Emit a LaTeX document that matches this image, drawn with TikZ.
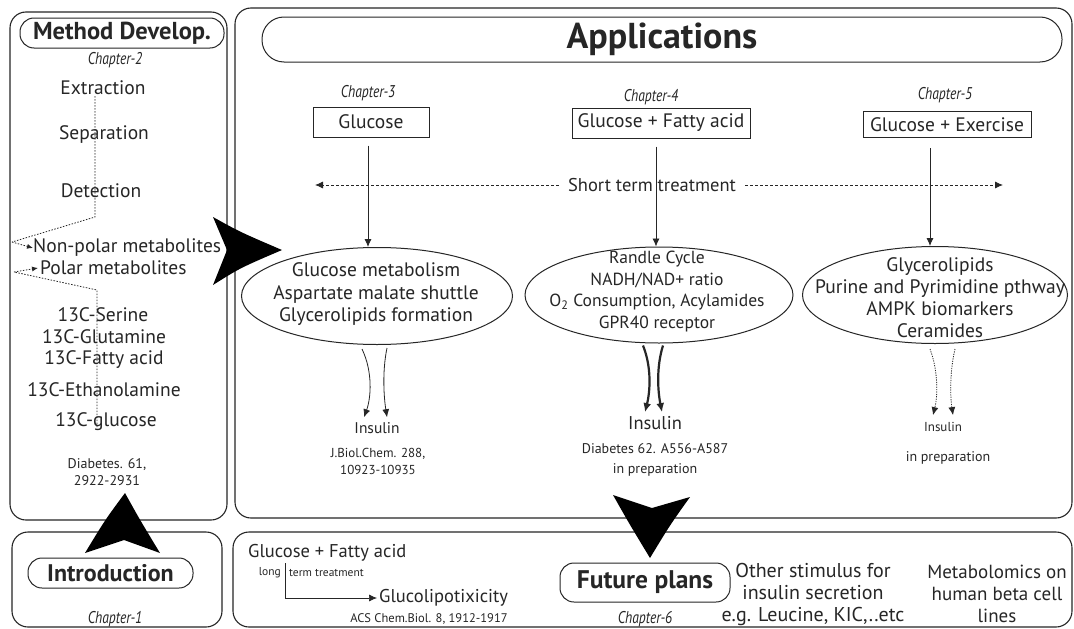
\documentclass[tikz,border=0pt]{standalone}
\usepackage{fontspec}
\setmainfont{PT Sans}
\newfontfamily\chapfont{PT Sans}[FakeStretch=0.8]
\usetikzlibrary{arrows.meta,shapes.geometric,calc}
\begin{document}
\begin{tikzpicture}[x=1pt,y=-1pt,
  every node/.style={text=black!85, inner sep=0pt, align=center},
  panel/.style={draw=black!85, line width=1.1pt, rounded corners=16pt},
  pill/.style={draw=black!85, line width=1pt, rounded corners=14pt},
  tbox/.style={draw=black!85, line width=1pt, minimum height=30pt, font=\fontsize{19.5}{22}\selectfont},
  ell/.style={draw=black!85, ellipse, line width=1pt},
  txt/.style={font=\fontsize{19.5}{22.5}\selectfont},
  small/.style={font=\fontsize{13}{17}\selectfont},
  chap/.style={font=\chapfont\itshape\fontsize{17}{20}\selectfont},
  arr/.style={draw=black!85, line width=0.8pt, -{Latex[length=8pt,width=7pt]}},
  dot/.style={draw=black!85, line width=0.8pt, dash pattern=on 1.5pt off 1.5pt},
  big/.style={fill=black, draw=none}]
\useasboundingbox (0,0) rectangle (1074,629);
\fill[white] (0,0) rectangle (1074,629);

% panels
\draw[panel] (10,12) rectangle (227,520);
\draw[panel] (235,8) rectangle (1072,518);
\draw[panel] (12,532) rectangle (222,627);
\draw[panel] (233,532) rectangle (1072,627);

% ---- Method development ----
\node[pill, font=\bfseries\fontsize{24.5}{28}\selectfont, minimum width=204pt, minimum height=30pt] (md) at (122,33) {Method Develop.};
\node[chap] (ch2) at (115,60) {Chapter-2};
\node[txt] (ext) at (103,88) {Extraction};
\node[txt] (sep) at (104,135) {Separation};
\node[txt] (det) at (101,191) {Detection};
\node[txt, anchor=west] (np) at (33,248) {Non-polar metabolites};
\node[txt, anchor=west] (po) at (40,268) {Polar metabolites};
\node[txt] (c1) at (103,315) {13C-Serine};
\node[txt] (c2) at (104,337) {13C-Glutamine};
\node[txt] (c3) at (104,360) {13C-Fatty acid};
\node[txt] (c4) at (104,390) {13C-Ethanolamine};
\node[txt] (c5) at (106,422) {13C-glucose};
\node[font=\fontsize{14}{17}\selectfont] (r2) at (107,472) {Diabetes. 61,\\2922-2931};

\coordinate (d0) at (95,96);
\coordinate (d1) at (95,217);
\coordinate (d2) at (12,242);
\coordinate (p0) at (97,427);
\coordinate (p1) at (97,290);
\coordinate (p2) at (14,272);
\draw[dot] (d0) -- (d1) -- (d2);
\draw[dot, -{Latex[length=6pt,width=5pt]}] (d2) -- (np.west);
\draw[dot] (p0) -- (p1) -- (p2);
\draw[dot, -{Latex[length=6pt,width=5pt]}] (p2) -- ([xshift=-2pt]po.west);

% ---- Applications ----
\node[pill, font=\bfseries\fontsize{36}{40}\selectfont, minimum width=800pt, minimum height=45pt, rounded corners=22pt] (ap) at (662,39.5) {Applications};

\node[chap] (ch3) at (368,93) {Chapter-3};
\node[chap] (ch4) at (651,97) {Chapter-4};
\node[chap] (ch5) at (945,95) {Chapter-5};
\node[tbox, minimum width=116pt] (g1) at (371,122) {Glucose};
\node[tbox, minimum width=178pt] (g2) at (661,123) {Glucose + Fatty acid};
\node[tbox, minimum width=168pt, minimum height=26pt] (g3) at (947,124.5) {Glucose + Exercise};

\node[font=\fontsize{18.5}{22}\selectfont, fill=white, inner xsep=3pt] (st) at (652,185) {Short term treatment};
\coordinate (stl) at (315,185);
\coordinate (str) at (1003,185);

\node[ell, minimum width=271pt, minimum height=97pt] (e1) at (377,296) {};
\node[txt] (t1) at (376,294.5) {Glucose metabolism\\Aspartate malate shuttle\\Glycerolipids formation};
\node[ell, minimum width=268pt, minimum height=96pt] (e2) at (659,295) {};
\node[font=\fontsize{17.5}{21.7}\selectfont] (t2) at (657,291.5) {Randle Cycle\\NADH/NAD+ ratio\\O\textsubscript{2} Consumption, Acylamides\\GPR40 receptor};
\node[ell, minimum width=265pt, minimum height=97pt] (e3) at (935,295) {};
\node[font=\fontsize{19.5}{22}\selectfont] (t3) at (940,298) {Glycerolipids\\Purine and Pyrimidine pthway\\AMPK biomarkers\\Ceramides};

\draw[arr] ($(g1.south)+(-3,8)$) -- (e1.north -| {$(g1.south)+(-3,0)$});
\draw[arr] ($(g2.south)+(-5,8)$) -- (e2.north -| {$(g2.south)+(-5,0)$});
\draw[arr] ($(g3.south)+(-17,10)$) -- (e3.north -| {$(g3.south)+(-17,0)$});

\draw[arr, dash pattern=on 3pt off 2pt] ([xshift=-6pt]st.west) -- (stl);
\draw[arr, dash pattern=on 3pt off 2pt] ([xshift=6pt]st.east) -- (str);

% insulin outputs
\node[font=\fontsize{15.5}{17}\selectfont] (in1) at (377,428) {Insulin};
\node[font=\fontsize{13}{17}\selectfont] (rf1) at (378,461) {J.Biol.Chem. 288,\\10923-10935};
\draw[arr] ($(e1.south)+(-15,4)$) .. controls (373,372) and (371,398) .. ($(in1.north)+(-13,-5)$);
\draw[arr] ($(e1.south)+(10,3)$) .. controls (382,372) and (384,398) .. ($(in1.north)+(10,-5)$);

\node[font=\fontsize{18.5}{20}\selectfont] (in2) at (655,423) {Insulin};
\node[font=\fontsize{14}{16}\selectfont] (rf2) at (655,449) {Diabetes 62. A556-A587};
\node[font=\fontsize{14}{16}\selectfont] (rf2b) at (655,470) {in preparation};
\draw[arr, line width=2.2pt, -{Latex[length=9pt,width=8pt]}] ($(e2.south)+(-16,2)$) .. controls (652,368) and (650,392) .. ($(in2.north)+(-10,-4)$);
\draw[arr, line width=2.2pt, -{Latex[length=9pt,width=8pt]}] ($(e2.south)+(4,2)$) .. controls (656,368) and (658,392) .. ($(in2.north)+(7,-4)$);

\node[font=\fontsize{13}{15}\selectfont] (in3) at (943,427) {Insulin};
\node[font=\fontsize{14}{16}\selectfont] (rf3) at (948,458) {in preparation};
\draw[arr, dash pattern=on 1.2pt off 1.2pt] ($(e3.south)+(-5,5)$) .. controls (938,370) and (938,395) .. ($(in3.north)+(-10,-7)$);
\draw[arr, dash pattern=on 1.2pt off 1.2pt] ($(e3.south)+(20,5)$) .. controls (950,370) and (950,395) .. ($(in3.north)+(10,-7)$);

% ---- Introduction ----
\node[pill, font=\bfseries\fontsize{24}{28}\selectfont, minimum width=165pt, minimum height=30pt] (intro) at (110.5,573) {Introduction};
\node[chap] (ch1) at (115,619) {Chapter-1};

% ---- Future plans ----
\node[font=\fontsize{18.5}{22}\selectfont, anchor=west] (gf) at (248,553) {Glucose + Fatty acid};
\node[font=\fontsize{11.5}{13}\selectfont, anchor=east] (lt1) at (281,573) {long};
\node[font=\fontsize{11.5}{13}\selectfont, anchor=west] (lt2) at (289,573) {term treatment};
\node[font=\fontsize{18.5}{22}\selectfont, anchor=west] (gl) at (379,598) {Glucolipotixicity};
\node[font=\fontsize{12.5}{14}\selectfont] (acs) at (429,619) {ACS Chem.Biol. 8, 1912-1917};
\coordinate (lk0) at (285,563);
\coordinate (lk) at (285,598);
\draw[arr, line width=0.7pt] (lk0) -- (lk) -- ([xshift=-2pt]gl.west);

\node[pill, font=\bfseries\fontsize{25.5}{28}\selectfont, minimum width=170pt, minimum height=39pt] (fp) at (645,582.5) {Future plans};
\node[chap] (ch6) at (645,619) {Chapter-6};
\node[font=\fontsize{20}{22}\selectfont] (os) at (813,594) {Other stimulus for\\insulin secretion\\e.g. Leucine, KIC,..etc};
\node[font=\fontsize{19}{22}\selectfont] (mb) at (997,594) {Metabolomics on\\human beta cell\\lines};

% ---- big arrows ----
\fill[big] (213,217) .. controls (240,232) .. (282,250) .. controls (240,268) .. (213,285) -- (227,250) -- cycle;
\fill[big] (125,493) .. controls (140,520) .. (160,553) -- (124,540) -- (85,553) .. controls (105,520) .. (125,493) -- cycle;
\fill[big] (613,495) -- (652,508) -- (690,497) .. controls (670,525) .. (650,558) .. controls (630,525) .. (613,495) -- cycle;
\end{tikzpicture}
\end{document}
